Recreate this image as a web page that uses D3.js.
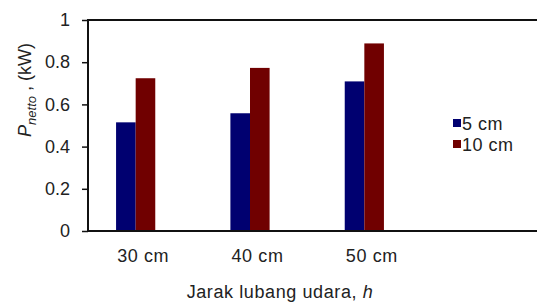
<!DOCTYPE html>
<html>
<head>
<meta charset="utf-8">
<script src="https://cdn.jsdelivr.net/npm/d3@7"></script>
<style>
  body { margin: 0; background: #fff; }
  text { font-family: "Liberation Sans", Arial, sans-serif; fill: #222; }
</style>
</head>
<body>
<div class="chart"></div>
<script>
// data
var categories = ["30 cm", "40 cm", "50 cm"];
var seriesNames = ["5 cm", "10 cm"];
var values5 = [0.515, 0.558, 0.709];
var values10 = [0.724, 0.773, 0.889];
var yTicks = [0, 0.2, 0.4, 0.6, 0.8, 1];
var colors = ["#000070", "#700000"];

var svgWidth = 537;
var svgHeight = 303;

var svg = d3.select(".chart")
  .append("svg")
  .attr("width", svgWidth)
  .attr("height", svgHeight);

var plotLeft = 88, plotTop = 20, plotBottom = 231, plotRight = 537;

var xScale = d3.scaleBand()
  .domain(categories)
  .range([78.5, 421.5]);

var xInner = d3.scaleBand()
  .domain(seriesNames)
  .range([-19.6, 19.6]);

var yScale = d3.scaleLinear()
  .domain([0, 1])
  .range([plotBottom, plotTop]);

var rows = categories.map(function(c, i) {
  return {cat: c, vals: [values5[i], values10[i]]};
});

// bars
var groups = svg.selectAll(".grp")
  .data(rows)
  .enter()
  .append("g")
  .attr("class", "grp")
  .attr("transform", d => `translate(${xScale(d.cat) + xScale.bandwidth() / 2}, 0)`);

groups.selectAll("rect")
  .data(d => d.vals.map((v, j) => ({name: seriesNames[j], v: v, j: j})))
  .enter()
  .append("rect")
  .attr("x", d => xInner(d.name))
  .attr("width", xInner.bandwidth())
  .attr("y", d => yScale(d.v))
  .attr("height", d => plotBottom - yScale(d.v))
  .attr("fill", d => colors[d.j]);

// left axis
var leftAxis = d3.axisLeft(yScale)
  .tickValues(yTicks)
  .tickSize(6)
  .tickPadding(12)
  .tickFormat(d3.format("~g"));

var yAxisG = svg.append("g")
  .attr("transform", `translate(${plotLeft}, 0)`)
  .call(leftAxis);
yAxisG.select(".domain").remove();
yAxisG.selectAll("line").attr("stroke", "#111").attr("stroke-width", 1.5);
yAxisG.selectAll("text")
  .style("font-size", "18px")
  .style("font-family", "'Liberation Sans', Arial, sans-serif")
  .attr("fill", "#333");

// frame lines
svg.append("line")
  .attr("x1", plotLeft).attr("x2", plotRight)
  .attr("y1", plotTop).attr("y2", plotTop)
  .attr("stroke", "#111").attr("stroke-width", 2);
svg.append("line")
  .attr("x1", plotLeft).attr("x2", plotRight)
  .attr("y1", plotBottom).attr("y2", plotBottom)
  .attr("stroke", "#111").attr("stroke-width", 2);
svg.append("line")
  .attr("x1", plotLeft).attr("x2", plotLeft)
  .attr("y1", plotTop - 1).attr("y2", plotBottom + 1)
  .attr("stroke", "#111").attr("stroke-width", 2);

// category labels
svg.selectAll(".catlabel")
  .data(categories)
  .enter()
  .append("text")
  .attr("class", "catlabel")
  .attr("x", d => xScale(d) + xScale.bandwidth() / 2 + 7.5)
  .attr("y", 262)
  .attr("text-anchor", "middle")
  .style("font-size", "18px")
  .style("letter-spacing", "0.6px")
  .text(d => d);

// x title
var xTitle = svg.append("text")
  .attr("x", 280)
  .attr("y", 298)
  .attr("text-anchor", "middle")
  .style("font-size", "18px")
  .style("letter-spacing", "0.6px");
xTitle.append("tspan").text("Jarak lubang udara, ");
xTitle.append("tspan").style("font-style", "italic").text("h");

// y title
var yTitle = svg.append("text")
  .attr("transform", "translate(31, 90) rotate(-90)")
  .attr("text-anchor", "middle")
  .style("font-size", "18px");
yTitle.append("tspan").style("font-style", "italic").text("P");
yTitle.append("tspan").attr("dy", 5).style("font-size", "13px").style("font-style", "italic").text("netto");
yTitle.append("tspan").attr("dy", -5).text(" , (kW)");

// legend
var legend = svg.selectAll(".leg")
  .data(seriesNames)
  .enter()
  .append("g")
  .attr("class", "leg")
  .attr("transform", (d, i) => `translate(453, ${119 + i * 21})`);

legend.append("rect")
  .attr("width", 8)
  .attr("height", 8)
  .attr("fill", (d, i) => colors[i]);

legend.append("text")
  .attr("x", 9)
  .attr("y", 11)
  .style("font-size", "18px")
  .style("letter-spacing", "0.5px")
  .text(d => d);
</script>
</body>
</html>
